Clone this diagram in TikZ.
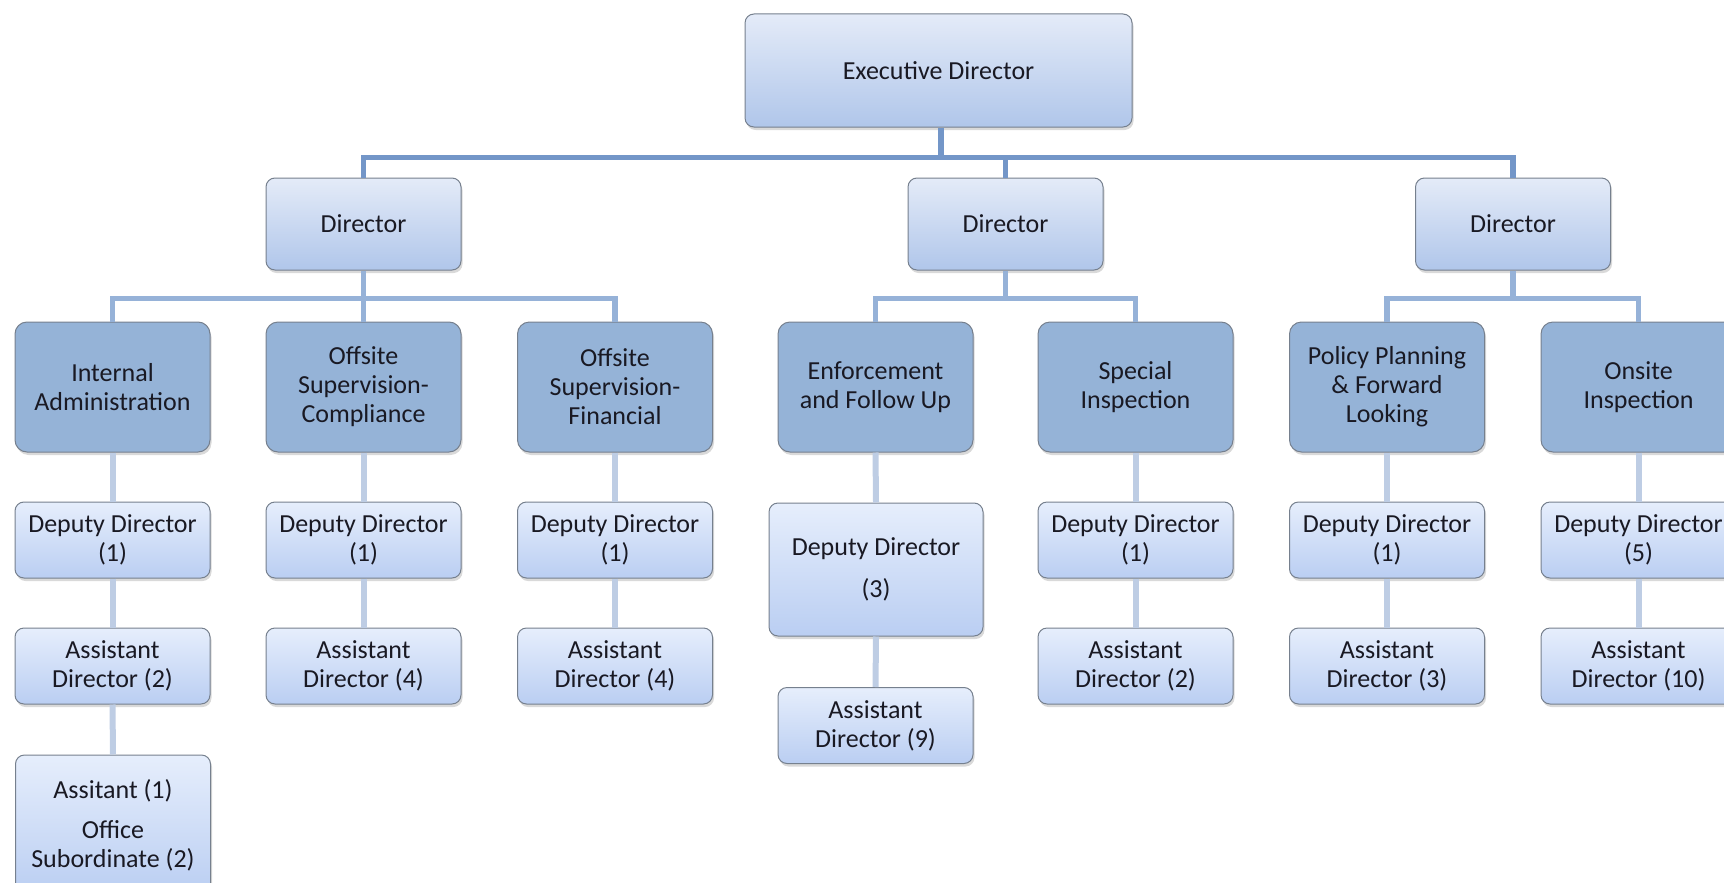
\documentclass[tikz,border=0pt]{standalone}
\usepackage{fontspec}
\setmainfont{Carlito}
\usetikzlibrary{shadows,positioning}

\definecolor{edtop}{RGB}{228,235,248}
\definecolor{edbot}{RGB}{176,198,234}
\definecolor{boxtop}{RGB}{230,238,252}
\definecolor{boxbot}{RGB}{186,206,242}
\definecolor{unitfill}{RGB}{149,179,215}
\definecolor{rim}{RGB}{118,128,142}
\definecolor{barblue}{RGB}{115,150,200}
\definecolor{midblue}{RGB}{150,178,216}
\definecolor{stemblue}{RGB}{190,205,228}
\definecolor{ink}{RGB}{25,25,35}

\tikzset{
  orgbox/.style={rounded corners=9pt, draw=rim, line width=1pt, align=center, text=ink,
    inner sep=0pt, font=\fontsize{26}{29}\selectfont,
    drop shadow={shadow xshift=1.5pt, shadow yshift=-3pt, opacity=0.3}},
  chief/.style={orgbox, top color=edtop, bottom color=edbot, minimum width=387, minimum height=113},
  headbox/.style={orgbox, top color=edtop, bottom color=edbot, minimum width=195, minimum height=92},
  unitbox/.style={orgbox, rounded corners=12pt, fill=unitfill, minimum width=195, minimum height=130},
  staffbox/.style={orgbox, top color=boxtop, bottom color=boxbot, minimum width=195, minimum height=76},
  barline/.style={line width=5.5pt, draw=barblue},
  midline/.style={line width=5.5pt, draw=midblue},
  stemline/.style={line width=6pt, draw=stemblue}
}

\begin{document}
\begin{tikzpicture}[x=1pt, y=-1pt]
  \useasboundingbox (0,0) rectangle (1724,883);

  %%%%% top %%%%%
  \node[chief] (ed) at (938.5, 70.5) {Executive Director};

  \node[headbox] (dir1) at (363.5, 224) {Director};
  \node[headbox] (dir2) at (1005.5, 224) {Director};
  \node[headbox] (dir3) at (1513, 224) {Director};

  %%%%% units %%%%%
  \node[unitbox] (intadm) at (112.5, 387) {Internal\\Administration};
  \node[unitbox] (offcomp) at (363.5, 387) {Offsite\\Supervision-\\Compliance};
  \node[unitbox] (offfin) at (615, 387) {Offsite\\Supervision-\\Financial};
  \node[unitbox] (enforce) at (875.5, 387) {Enforcement\\and Follow Up};
  \node[unitbox] (special) at (1135.5, 387) {Special\\Inspection};
  \node[unitbox] (policy) at (1387, 387) {Policy Planning\\\& Forward\\Looking};
  \node[unitbox] (onsite) at (1638.5, 387) {Onsite\\Inspection};

  %%%%% deputies %%%%%
  \node[staffbox] (dep1) at (112.5, 540) {Deputy Director\\(1)};
  \node[staffbox] (dep2) at (363.5, 540) {Deputy Director\\(1)};
  \node[staffbox] (dep3) at (615, 540) {Deputy Director\\(1)};
  \node[staffbox, minimum width=214, minimum height=133] (dep4) at (876, 569.5) {Deputy Director\\[13pt](3)};
  \node[staffbox] (dep5) at (1135.5, 540) {Deputy Director\\(1)};
  \node[staffbox] (dep6) at (1387, 540) {Deputy Director\\(1)};
  \node[staffbox] (dep7) at (1638.5, 540) {Deputy Director\\(5)};

  %%%%% assistants %%%%%
  \node[staffbox] (asst1) at (112.5, 666) {Assistant\\Director (2)};
  \node[staffbox] (asst2) at (363.5, 666) {Assistant\\Director (4)};
  \node[staffbox] (asst3) at (615, 666) {Assistant\\Director (4)};
  \node[staffbox] (asst4) at (875.5, 725.5) {Assistant\\Director (9)};
  \node[staffbox] (asst5) at (1135.5, 666) {Assistant\\Director (2)};
  \node[staffbox] (asst6) at (1387, 666) {Assistant\\Director (3)};
  \node[staffbox] (asst7) at (1638.5, 666) {Assistant\\Director (10)};

  \node[staffbox, minimum height=140] (office) at (113, 825) {Assitant (1)\\[11pt]Office\\Subordinate (2)};

  %%%%% connectors %%%%%
  \coordinate (topbar) at ([xshift=2.5pt, yshift=-30pt]ed.south);
  \draw[barline] ([xshift=2.5pt]ed.south) -- (topbar);
  \draw[barline] (dir1.north) |- (topbar) -| (dir3.north);
  \draw[barline] (dir2.north) -- (dir2.north |- topbar);

  \draw[midline] (intadm.north) |- ([yshift=-28pt]dir1.south) -| (offfin.north);
  \draw[midline] (dir1.south) -- (offcomp.north);
  \draw[midline] (enforce.north) |- ([yshift=-28pt]dir2.south) -| (special.north);
  \draw[midline] (dir2.south) -- ([yshift=-28pt]dir2.south);
  \draw[midline] (policy.north) |- ([yshift=-28pt]dir3.south) -| (onsite.north);
  \draw[midline] (dir3.south) -- ([yshift=-28pt]dir3.south);

  \foreach \u/\d/\a in {intadm/dep1/asst1, offcomp/dep2/asst2, offfin/dep3/asst3,
      enforce/dep4/asst4, special/dep5/asst5, policy/dep6/asst6, onsite/dep7/asst7} {
    \draw[stemline] (\u.south) -- (\d.north);
    \draw[stemline] (\d.south) -- (\a.north);
  }
  \draw[stemline] (asst1.south) -- (office.north);
\end{tikzpicture}
\end{document}
